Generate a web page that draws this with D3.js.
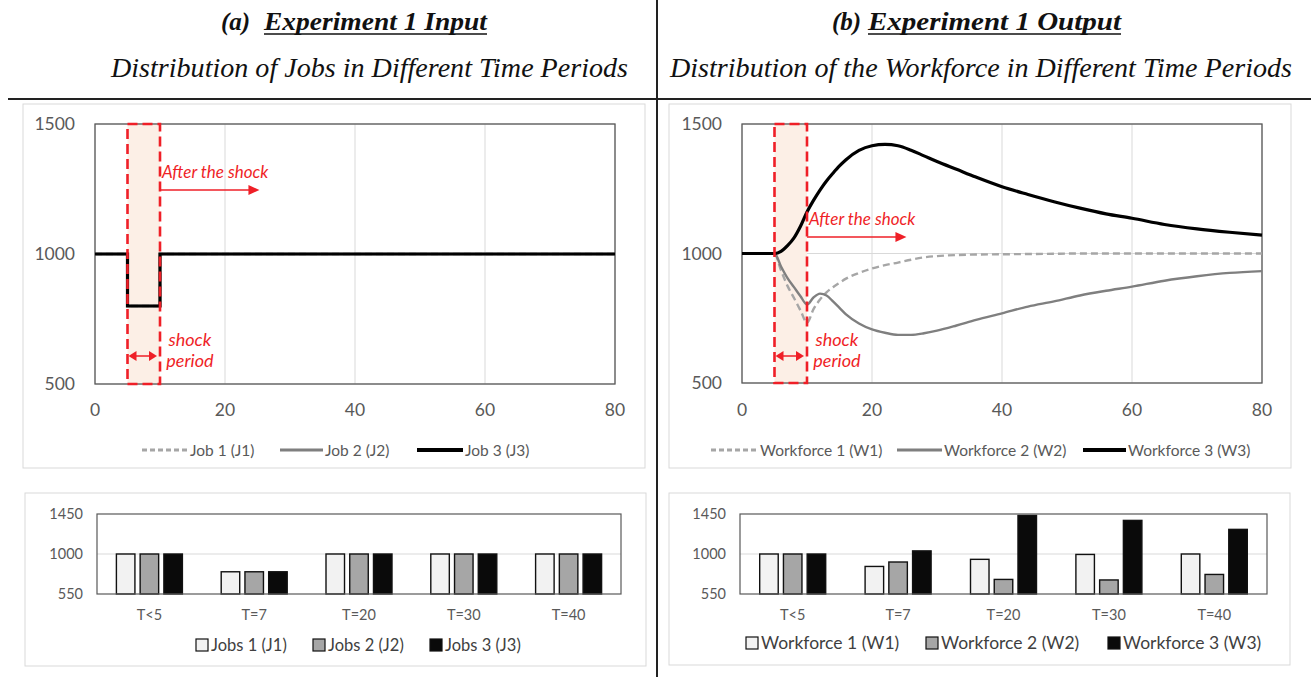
<!DOCTYPE html>
<html>
<head>
<meta charset="utf-8">
<script src="https://cdn.jsdelivr.net/npm/d3@7"></script>
<style>
  body { margin: 0; background: #fff; }
</style>
</head>
<body>
<svg id="chart" width="1311" height="677" font-family="Lato, 'Open Sans', sans-serif"></svg>
<script>
// ---- data ----
var jobTimes = [0, 5, 10, 80];
var job1 = [1000, 800, 1000, 1000];
var job2 = [1000, 800, 1000, 1000];
var job3 = [1000, 800, 1000, 1000];

var wfTimes = [0, 5, 6, 7, 8, 9, 10, 11, 12, 13, 14, 15, 16, 18, 20, 22, 24, 26, 28, 30, 33, 36, 40, 44, 48, 52, 56, 60, 65, 70, 75, 80];
var wf1 = [1000, 1000, 935, 875, 828, 780, 733, 785, 822, 850, 870, 887, 903, 925, 942, 955, 965, 976, 985, 990, 994, 996, 997, 998, 999, 1000, 1000, 1000, 1000, 1000, 1000, 1000];
var wf2 = [1000, 1000, 950, 905, 870, 835, 803, 830, 845, 838, 815, 790, 765, 730, 707, 694, 686, 686, 692, 702, 722, 744, 769, 795, 815, 838, 856, 872, 895, 912, 925, 932];
var wf3 = [1000, 1000, 1008, 1030, 1060, 1105, 1160, 1205, 1245, 1280, 1310, 1338, 1362, 1398, 1416, 1421, 1416, 1399, 1377, 1355, 1325, 1295, 1258, 1228, 1200, 1175, 1153, 1136, 1112, 1095, 1082, 1071];

var xTicks = [0, 20, 40, 60, 80];
var yTicks = [500, 1000, 1500];
var barTicks = [550, 1000, 1450];
var periods = ["T<5", "T=7", "T=20", "T=30", "T=40"];
var jobsBar1 = [1000, 800, 1000, 1000, 1000];
var jobsBar2 = [1000, 800, 1000, 1000, 1000];
var jobsBar3 = [1000, 800, 1000, 1000, 1000];
var wfBar1 = [1000, 860, 940, 995, 1000];
var wfBar2 = [1000, 910, 714, 708, 770];
var wfBar3 = [1000, 1035, 1434, 1378, 1277];

var shockStart = 5, shockEnd = 10;

var lineNames = ["Job 1 (J1)", "Job 2 (J2)", "Job 3 (J3)"];
var wfNames = ["Workforce 1 (W1)", "Workforce 2 (W2)", "Workforce 3 (W3)"];
var jobsBarNames = ["Jobs 1 (J1)", "Jobs 2 (J2)", "Jobs 3 (J3)"];

var svg = d3.select("#chart");
var red = "#ef1f27";
var axisGray = "#595959";
var serif = "'Liberation Serif', 'Times New Roman', Times, serif";

// ---- frame: titles and rules ----
function titles(o) {
    svg.append("text").attr("font-family", serif).attr("font-style", "italic").attr("x", o.a).attr("y", 30)
        .attr("font-size", 25).attr("font-weight", "bold").attr("fill", "#111").text(o.tag);
    svg.append("text").attr("font-family", serif).attr("font-style", "italic").attr("x", o.b).attr("y", 30)
        .attr("font-size", 25).attr("font-weight", "bold").attr("fill", "#111")
        .attr("textLength", o.e - o.b).attr("lengthAdjust", "spacingAndGlyphs").text(o.title);
    svg.append("line").attr("x1", o.b).attr("x2", o.e).attr("y1", 34).attr("y2", 34)
        .attr("stroke", "#111").attr("stroke-width", 1.6);
    svg.append("text").attr("font-family", serif).attr("font-style", "italic").attr("x", o.s0).attr("y", 77)
        .attr("font-size", 27).attr("fill", "#111").attr("textLength", o.s1 - o.s0).attr("lengthAdjust", "spacingAndGlyphs")
        .text(o.sub);
}
titles({tag: "(a)", a: 221, b: 264, e: 487, title: "Experiment 1 Input",
        s0: 111, s1: 628, sub: "Distribution of Jobs in Different Time Periods"});
titles({tag: "(b)", a: 832, b: 868, e: 1121, title: "Experiment 1 Output",
        s0: 670, s1: 1292, sub: "Distribution of the Workforce in Different Time Periods"});

svg.append("line").attr("x1", 8).attr("x2", 1311).attr("y1", 99).attr("y2", 99)
    .attr("stroke", "#222").attr("stroke-width", 2);
svg.append("line").attr("x1", 657).attr("x2", 657).attr("y1", 0).attr("y2", 677)
    .attr("stroke", "#222").attr("stroke-width", 2);

// ---- line charts ----
function lineChart(o) {
    svg.append("rect").attr("x", o.box[0]).attr("y", o.box[1]).attr("width", o.box[2]).attr("height", o.box[3])
        .attr("fill", "#fff").attr("stroke", "#d9d9d9");

    var x = d3.scaleLinear().domain([0, 80]).range([o.x0, o.x1]);
    var y = d3.scaleLinear().domain([500, 1500]).range([o.y1, o.y0]);
    var g = svg.append("g");

    g.selectAll(".vg").data(xTicks).enter().append("line")
        .attr("x1", x).attr("x2", x).attr("y1", o.y0).attr("y2", o.y1)
        .attr("stroke", "#d9d9d9");
    g.selectAll(".hg").data(yTicks).enter().append("line")
        .attr("x1", o.x0).attr("x2", o.x1).attr("y1", y).attr("y2", y)
        .attr("stroke", "#d9d9d9");

    // shock band
    g.append("rect").attr("x", x(shockStart)).attr("y", o.y0)
        .attr("width", x(shockEnd) - x(shockStart)).attr("height", o.y1 - o.y0)
        .attr("fill", "#fcefe6");

    g.append("rect").attr("x", o.x0).attr("y", o.y0).attr("width", o.x1 - o.x0).attr("height", o.y1 - o.y0)
        .attr("fill", "none").attr("stroke", axisGray).attr("stroke-width", 1.3);

    var styles = [
        {c: "#a6a6a6", w: 2.4, d: "7,4"},
        {c: "#7f7f7f", w: 2.4, d: null},
        {c: "#000", w: 3.2, d: null}
    ];
    var line = d3.line().x(function (d) { return x(d[0]); }).y(function (d) { return y(d[1]); }).curve(o.curve);
    o.series.forEach(function (s, i) {
        g.append("path").datum(o.times.map(function (t, k) { return [t, s[k]]; }))
            .attr("d", line).attr("fill", "none")
            .attr("stroke", styles[i].c).attr("stroke-width", styles[i].w)
            .attr("stroke-dasharray", styles[i].d);
    });

    // dashed shock frame
    g.append("rect").attr("x", x(shockStart)).attr("y", o.y0)
        .attr("width", x(shockEnd) - x(shockStart)).attr("height", o.y1 - o.y0)
        .attr("fill", "none").attr("stroke", red).attr("stroke-width", 2.6).attr("stroke-dasharray", "10,5");

    // axes labels
    g.selectAll(".yl").data(yTicks).enter().append("text")
        .attr("x", o.x0 - 20).attr("y", function (d) { return y(d) + 6; })
        .attr("text-anchor", "end").attr("font-size", 17.5).attr("fill", axisGray).text(function (d) { return d; });
    g.selectAll(".xl").data(xTicks).enter().append("text")
        .attr("x", x).attr("y", 416)
        .attr("text-anchor", "middle").attr("font-size", 17.5).attr("fill", axisGray).text(function (d) { return d; });

    // annotations
    var ay = o.annY;
    g.append("text").attr("x", x(shockEnd) + 2).attr("y", ay - 12)
        .attr("font-size", 17).attr("font-style", "italic").attr("fill", red).text("After the shock");
    g.append("line").attr("x1", x(shockEnd)).attr("x2", x(25.3) - 9).attr("y1", ay).attr("y2", ay)
        .attr("stroke", red).attr("stroke-width", 1.3);
    g.append("path").attr("d", "M" + (x(25.3) - 11) + "," + (ay - 5) + "L" + x(25.3) + "," + ay + "L" + (x(25.3) - 11) + "," + (ay + 5) + "Z")
        .attr("fill", red);

    var mx = x(14.6);
    g.append("text").attr("x", mx).attr("y", 346).attr("text-anchor", "middle")
        .attr("font-size", 18).attr("font-style", "italic").attr("fill", red).text("shock");
    g.append("text").attr("x", mx).attr("y", 367).attr("text-anchor", "middle")
        .attr("font-size", 18).attr("font-style", "italic").attr("fill", red).text("period");
    var a0 = x(shockStart) + 1, a1 = x(shockEnd) - 3, dy = 356;
    g.append("line").attr("x1", a0 + 7).attr("x2", a1 - 7).attr("y1", dy).attr("y2", dy)
        .attr("stroke", red).attr("stroke-width", 1.5);
    g.append("path").attr("d", "M" + a0 + "," + dy + "l8,-5v10Z").attr("fill", red);
    g.append("path").attr("d", "M" + a1 + "," + dy + "l-8,-5v10Z").attr("fill", red);

    // legend
    o.legend.forEach(function (it, i) {
        g.append("line").attr("x1", it[0]).attr("x2", it[1]).attr("y1", 450).attr("y2", 450)
            .attr("stroke", styles[i].c).attr("stroke-width", styles[i].w + 0.6)
            .attr("stroke-dasharray", styles[i].d ? "5,3" : null);
        g.append("text").attr("x", it[1] + 2).attr("y", 456).attr("font-size", 15.5)
            .attr("fill", axisGray).text(o.names[i]);
    });
}

lineChart({box: [23, 104, 622, 364], x0: 95, x1: 615, y0: 124, y1: 384,
    times: jobTimes, series: [job1, job2, job3], curve: d3.curveStepAfter,
    annY: 190, names: lineNames, legend: [[142, 188], [280, 323], [417, 463]]});
lineChart({box: [669, 104, 622, 364], x0: 742, x1: 1262, y0: 124, y1: 383,
    times: wfTimes, series: [wf1, wf2, wf3], curve: d3.curveMonotoneX,
    annY: 237, names: wfNames, legend: [[711, 758], [897, 942], [1083, 1126]]});

// ---- bar charts ----
function barChart(o) {
    svg.append("rect").attr("x", o.box[0]).attr("y", o.box[1]).attr("width", o.box[2]).attr("height", o.box[3])
        .attr("fill", "#fff").attr("stroke", "#d9d9d9");
    var x = d3.scaleBand().domain(periods).range([o.x0, o.x1]);
    var y = d3.scaleLinear().domain([550, 1450]).range([o.y1, o.y0]);
    var inner = d3.scaleBand().domain([0, 1, 2]).range([0, 66]).paddingInner(0.22);
    var g = svg.append("g");
    g.append("line").attr("x1", o.x0).attr("x2", o.x1).attr("y1", y(1000)).attr("y2", y(1000))
        .attr("stroke", "#d9d9d9");
    var fills = ["#f2f2f2", "#a6a6a6", "#0a0a0a"];
    o.series.forEach(function (s, i) {
        g.selectAll(".b" + i).data(periods).enter().append("rect")
            .attr("x", function (d) { return x(d) + x.bandwidth() / 2 - 33 + inner(i); })
            .attr("y", function (d, k) { return y(s[k]); })
            .attr("width", inner.bandwidth())
            .attr("height", function (d, k) { return y(550) - y(s[k]); })
            .attr("fill", fills[i]).attr("stroke", "#111").attr("stroke-width", 1.4);
    });
    g.append("rect").attr("x", o.x0).attr("y", o.y0).attr("width", o.x1 - o.x0).attr("height", o.y1 - o.y0)
        .attr("fill", "none").attr("stroke", axisGray).attr("stroke-width", 1.2);
    g.selectAll(".yl").data(barTicks).enter().append("text")
        .attr("x", o.x0 - 14).attr("y", function (d) { return y(d) + 5; })
        .attr("text-anchor", "end").attr("font-size", 14.5).attr("fill", axisGray).text(function (d) { return d; });
    g.selectAll(".xl").data(periods).enter().append("text")
        .attr("x", function (d) { return x(d) + x.bandwidth() / 2; }).attr("y", 620)
        .attr("text-anchor", "middle").attr("font-size", 14.5).attr("fill", axisGray).text(function (d) { return d; });
    o.legend.forEach(function (lx, i) {
        g.append("rect").attr("x", lx).attr("y", o.ly - 6).attr("width", 12).attr("height", 12)
            .attr("fill", fills[i]).attr("stroke", "#111").attr("stroke-width", 1.2);
        g.append("text").attr("x", lx + 15).attr("y", o.ly + 6).attr("font-size", o.fs)
            .attr("fill", "#404040").text(o.names[i]);
    });
}

barChart({box: [25, 493, 621, 173], x0: 97, x1: 621, y0: 514, y1: 594,
    series: [jobsBar1, jobsBar2, jobsBar3], names: jobsBarNames, legend: [196, 313, 430], ly: 645, fs: 16.5});
barChart({box: [669, 493, 621, 172], x0: 740, x1: 1267, y0: 514, y1: 594,
    series: [wfBar1, wfBar2, wfBar3], names: wfNames, legend: [746, 926, 1108], ly: 643, fs: 17.5});
</script>
</body>
</html>
